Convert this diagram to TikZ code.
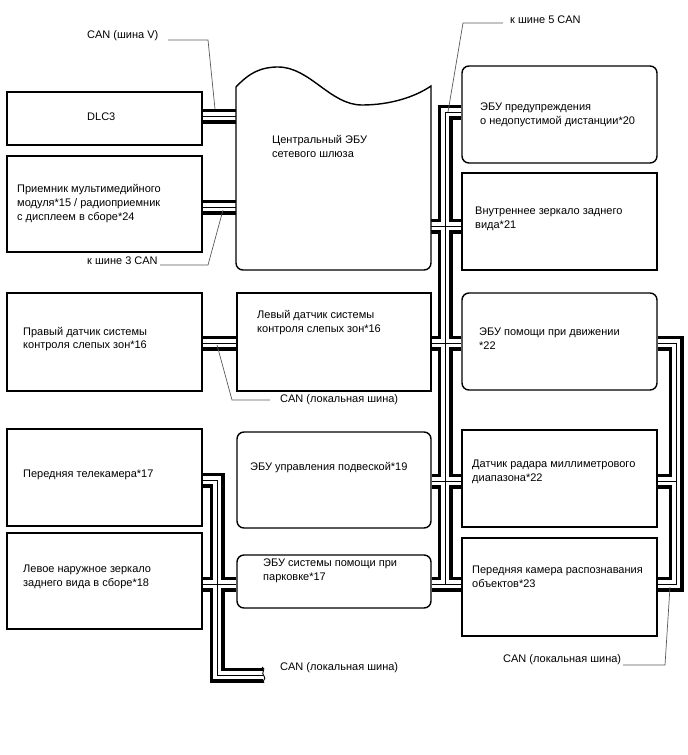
\documentclass[tikz,border=0pt]{standalone}
\usepackage{fontspec}
\setmainfont{Liberation Sans}
\pgfdeclarelayer{bg}
\pgfsetlayers{bg,main}
\begin{document}
\begin{tikzpicture}[x=1pt,y=-1pt,
  box/.style={draw, line width=1.4pt, fill=white, inner sep=0, minimum width=195, minimum height=97},
  rbox/.style={box, rounded corners=7},
  txt/.style={inner sep=0, anchor=west, align=left, font=\fontsize{11}{13.8}\selectfont},
  leader/.style={draw=black!65, line width=0.7pt},
  wA/.style={line width=15pt, draw=black, miter limit=10},
  wB/.style={line width=8pt, draw=white, miter limit=10},
  wC/.style={line width=0.7pt, draw=black}]
\useasboundingbox (0,0) rectangle (688,755);

% ---------- boxes ----------
\node[box, minimum height=53] (dlc) at (104.5,118.5) {};
\node[box, minimum height=96] (rcv) at (104.5,204) {};
\node[box, minimum height=98] (rbsm) at (104.5,342) {};
\node[box] (tele) at (104.5,477.5) {};
\node[box, minimum height=96] (mirror) at (104.5,581) {};

\node[inner sep=0, minimum width=195, minimum height=203] (gw) at (333.5,168.5) {};
\draw[line width=1.4pt, fill=white] (236,150) -- (236,87) .. controls (250,72) and (262,67) .. (278,67)
  .. controls (310,67) and (330,105) .. (362,105)
  .. controls (390,105) and (415,97) .. (431,86)
  -- (431,150) [rounded corners=7] -- (431,270) -- (236,270) -- (236,150) -- cycle;

\node[box, minimum width=194, minimum height=98] (lbsm) at (334,342) {};
\node[rbox, minimum width=194, minimum height=96] (sus) at (334,480) {};
\node[rbox, minimum width=194, minimum height=53] (park) at (334,581.5) {};

\node[rbox] (b20) at (559.5,114.5) {};
\node[box] (b21) at (559.5,221.5) {};
\node[rbox] (b22) at (559.5,341.5) {};
\node[box] (radar) at (559.5,478.5) {};
\node[box, minimum height=98] (fcam) at (559.5,587) {};

% ---------- helper coordinates ----------
\coordinate (yDLC) at (0,116);
\coordinate (yRCV) at (0,207);
\coordinate (y20) at (0,112);
\coordinate (y21) at (0,226);
\coordinate (yBSM) at (0,343);
\coordinate (ySUS) at (0,481);
\coordinate (yPRK) at (0,584);
\coordinate (yTEL) at (0,480);
\coordinate (yBOT) at (0,675);
\coordinate (xBUS) at (445,0);
\coordinate (xRB) at (676,0);
\coordinate (xLB) at (217,0);
\coordinate (canend) at (263,675);

\newcommand\allwires[1]{%
  \draw[#1] (dlc.east |- yDLC) -- (gw.west |- yDLC);
  \draw[#1] (rcv.east |- yRCV) -- (gw.west |- yRCV);
  \draw[#1] (b20.west |- y20) -- (xBUS |- y20) -- (xBUS |- yPRK);
  \draw[#1] (gw.east |- y21) -- (b21.west |- y21);
  \draw[#1] (rbsm.east |- yBSM) -- (lbsm.west |- yBSM);
  \draw[#1] (lbsm.east |- yBSM) -- (b22.west |- yBSM);
  \draw[#1] (sus.east |- ySUS) -- (radar.west |- ySUS);
  \draw[#1] (park.east |- yPRK) -- (fcam.west |- yPRK);
  \draw[#1] (mirror.east |- yPRK) -- (park.west |- yPRK);
  \draw[#1] (tele.east |- yTEL) -- (xLB |- yTEL) -- (xLB |- yBOT) -- (canend);
  \draw[#1] (b22.east |- yBSM) -- (xRB |- yBSM) -- (xRB |- yPRK) -- (fcam.east |- yPRK);
  \draw[#1] (radar.east |- ySUS) -- (xRB |- ySUS);
}
\begin{pgfonlayer}{bg}
\allwires{wA}
\allwires{wB}
\allwires{wC}
\end{pgfonlayer}
% break symbol at wire end
\draw[line width=0.9pt] (262,667) .. controls (267,669) and (260,673) .. (264,676)
  .. controls (267,679) and (261,681) .. (264,683);

% ---------- texts ----------
\node[txt] (tdlc) at (87,117) {DLC3};
\node[txt] (trcv) at (17,203.5) {Приемник мультимедийного\\модуля*15 / радиоприемник\\с дисплеем в сборе*24};
\node[txt] (tgw) at (272,146.5) {Центральный ЭБУ\\[1pt]сетевого шлюза};
\node[txt] (t20) at (480,115) {ЭБУ предупреждения\\о недопустимой дистанции*20};
\node[txt] (t21) at (475,219) {Внутреннее зеркало заднего\\вида*21};
\node[txt] (trbsm) at (23,339) {Правый датчик системы\\контроля слепых зон*16};
\node[txt] (tlbsm) at (257,322.5) {Левый датчик системы\\контроля слепых зон*16};
\node[txt] (t22) at (479,339) {ЭБУ помощи при движении\\*22};
\node[txt] (ttele) at (23,475) {Передняя телекамера*17};
\node[txt] (tsus) at (250,468) {ЭБУ управления подвеской*19};
\node[txt] (tradar) at (472,471.5) {Датчик радара миллиметрового\\диапазона*22};
\node[txt] (tmirror) at (23,576.5) {Левое наружное зеркало\\заднего вида в сборе*18};
\node[txt] (tpark) at (263,571) {ЭБУ системы помощи при\\парковке*17};
\node[txt] (tfcam) at (472,577) {Передняя камера распознавания\\объектов*23};

% ---------- labels and leaders ----------
\node[txt] (lV) at (87,36) {CAN (шина V)};
\node[txt] (l3) at (87,261) {к шине 3 CAN};
\node[txt] (l5) at (510,20) {к шине 5 CAN};
\node[txt] (lmid) at (280,400) {CAN (локальная шина)};
\node[txt] (lbot) at (280,668) {CAN (локальная шина)};
\node[txt] (lright) at (503,660) {CAN (локальная шина)};

\coordinate (pV) at (215,109);
\coordinate (p3) at (223,210);
\coordinate (p5) at (448,112);
\coordinate (pmid) at (217,345);
\coordinate (pright) at (670,587);
\draw[leader] (168,40) -- (208,40) -- (pV);
\draw[leader] (160,265) -- (208,265) -- (p3);
\draw[leader] (503,23) -- (463,23) -- (p5);
\draw[leader] (270,400) -- (232,400) -- (pmid);
\draw[leader] (623,665) -- (665,665) -- (pright);
\end{tikzpicture}
\end{document}
